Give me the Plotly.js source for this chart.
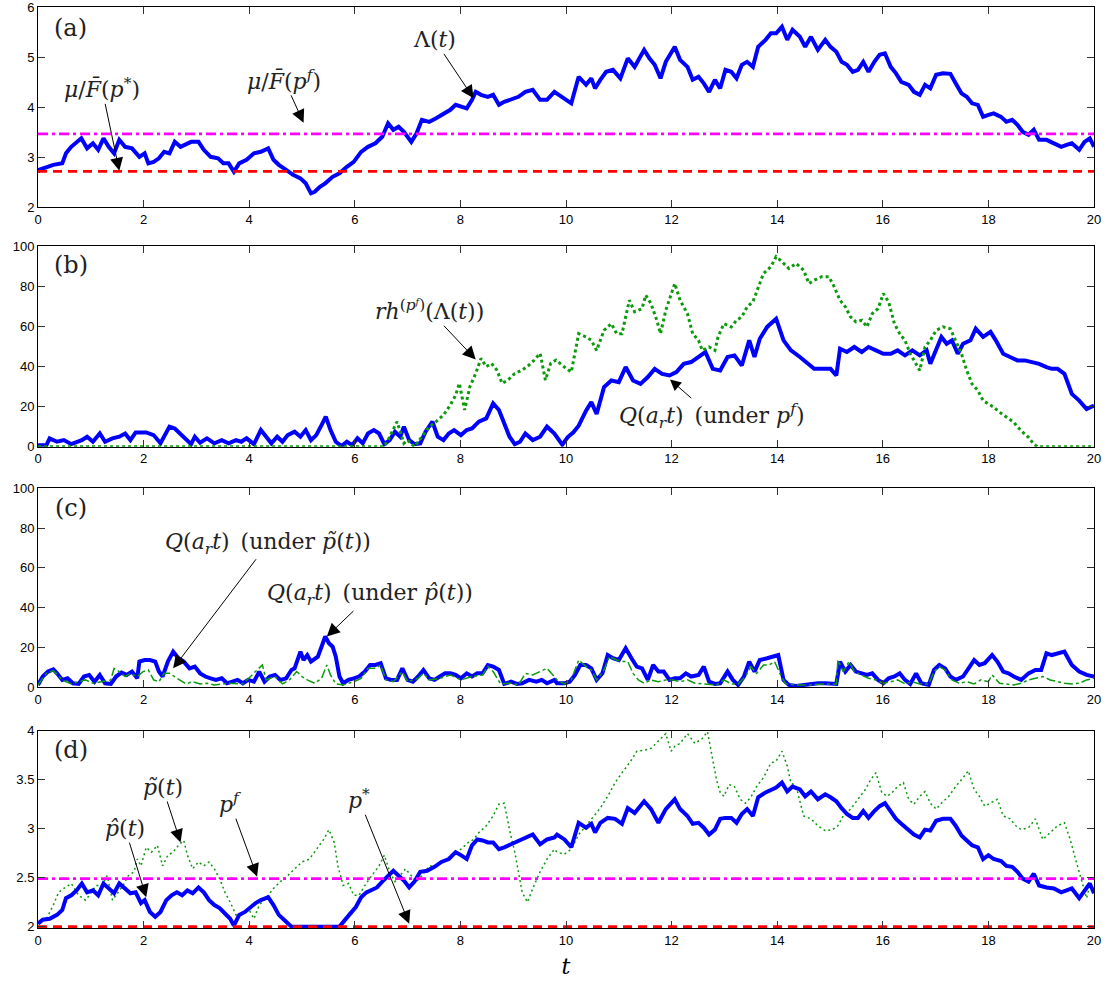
<!DOCTYPE html>
<html><head><meta charset="utf-8">
<script src="https://cdn.plot.ly/plotly-3.0.1.min.js"></script>
<style>body{margin:0;background:#fff}#chart{width:1118px;height:993px}</style>
</head><body><div id="chart"></div>
<script>
// ---------- Panel (a): Lambda(t) ----------
const tLam = [0,0.02,0.29,0.46,0.53,0.63,0.82,0.93,1.04,1.14,1.24,1.34,1.44,1.54,1.65,1.78,1.92,2.02,2.09,2.19,2.29,2.39,2.49,2.59,2.70,2.80,2.90,3.04,3.14,3.27,3.41,3.51,3.61,3.71,3.81,3.95,4.09,4.22,4.36,4.46,4.56,4.70,4.83,4.97,5.07,5.17,5.24,5.34,5.44,5.58,5.71,5.85,5.98,6.12,6.25,6.39,6.52,6.63,6.73,6.83,6.93,7.07,7.17,7.27,7.41,7.54,7.68,7.81,7.91,8.01,8.12,8.22,8.29,8.39,8.52,8.62,8.73,8.83,8.96,9.10,9.23,9.37,9.51,9.64,9.78,9.97,10.10,10.24,10.38,10.48,10.55,10.65,10.76,10.89,11.03,11.17,11.30,11.48,11.58,11.68,11.79,11.89,12.06,12.16,12.30,12.40,12.51,12.61,12.71,12.82,12.92,13.02,13.13,13.23,13.33,13.43,13.54,13.64,13.78,13.88,13.98,14.09,14.19,14.29,14.43,14.53,14.64,14.77,14.91,15.01,15.12,15.22,15.32,15.43,15.53,15.63,15.73,15.84,15.94,16.04,16.15,16.25,16.35,16.49,16.59,16.70,16.80,16.90,17.01,17.14,17.28,17.38,17.49,17.59,17.69,17.80,17.90,18.00,18.10,18.24,18.34,18.45,18.55,18.65,18.76,18.86,18.96,19.10,19.24,19.38,19.48,19.58,19.72,19.82,19.92,20.0];
const vLam = [2.7,2.75,2.85,2.88,3.08,3.21,3.38,3.18,3.28,3.15,3.38,3.21,3.08,3.35,3.21,3.18,3.01,3.08,2.88,2.91,2.98,3.11,3.08,3.31,3.21,3.25,3.31,3.31,3.15,3.01,2.98,2.88,2.88,2.71,2.88,2.95,3.08,3.11,3.18,2.95,2.85,2.75,2.65,2.58,2.48,2.28,2.31,2.41,2.48,2.61,2.68,2.81,2.91,3.11,3.21,3.28,3.41,3.68,3.55,3.61,3.51,3.31,3.48,3.75,3.71,3.78,3.88,3.95,4.05,4.01,3.98,4.15,4.31,4.25,4.21,4.25,4.05,4.11,4.15,4.21,4.31,4.35,4.15,4.15,4.31,4.18,4.08,4.61,4.45,4.58,4.38,4.55,4.71,4.75,4.58,4.98,4.81,5.15,4.98,4.85,4.58,4.91,5.21,4.95,4.81,4.55,4.61,4.48,4.31,4.55,4.38,4.75,4.71,4.58,4.85,4.91,4.81,5.21,5.35,5.48,5.48,5.61,5.35,5.55,5.41,5.21,5.41,5.15,5.35,5.21,5.11,4.91,4.85,4.71,4.75,4.91,4.71,4.91,5.05,5.08,4.81,4.68,4.51,4.45,4.31,4.25,4.45,4.38,4.65,4.68,4.67,4.48,4.28,4.21,4.08,4.05,3.81,3.85,3.88,3.81,3.71,3.75,3.65,3.51,3.45,3.55,3.35,3.35,3.28,3.21,3.25,3.28,3.15,3.31,3.38,3.21];
const levelsA = [2.72, 3.47];   // mu/Fbar(p*), mu/Fbar(p^f)

// ---------- Panel (b) ----------
const tQb = [0,0.16,0.22,0.36,0.49,0.63,0.83,0.93,1.04,1.17,1.27,1.41,1.54,1.65,1.75,1.85,2.05,2.19,2.32,2.49,2.59,2.73,2.90,2.97,3.07,3.20,3.34,3.48,3.61,3.75,3.85,3.95,4.09,4.22,4.32,4.42,4.53,4.63,4.73,4.86,4.97,5.07,5.17,5.27,5.37,5.45,5.54,5.64,5.75,5.85,5.95,6.05,6.15,6.25,6.36,6.46,6.56,6.66,6.76,6.86,6.93,7.03,7.13,7.24,7.34,7.47,7.57,7.68,7.78,7.88,8.01,8.12,8.22,8.35,8.49,8.62,8.73,8.83,8.93,9.03,9.13,9.23,9.37,9.51,9.64,9.78,9.93,10.03,10.14,10.24,10.38,10.48,10.58,10.72,10.86,11.00,11.13,11.27,11.41,11.55,11.68,11.82,11.96,12.09,12.23,12.37,12.51,12.64,12.78,12.92,13.06,13.19,13.33,13.47,13.57,13.67,13.81,13.98,14.12,14.26,14.43,14.57,14.70,14.84,15.01,15.12,15.19,15.32,15.46,15.60,15.73,15.87,16.01,16.15,16.28,16.42,16.56,16.70,16.83,16.90,17.01,17.11,17.21,17.31,17.42,17.52,17.66,17.76,17.90,18.04,18.14,18.28,18.41,18.55,18.69,18.83,18.96,19.10,19.20,19.31,19.44,19.58,19.72,19.86,20.0];
const vQb = [0.8,0.8,4.2,2.5,3.3,1.3,3.3,5.0,2.5,6.6,2.5,4.2,5.0,6.6,3.3,7.1,7.1,5.8,1.7,10.0,9.1,5.8,1.3,5.0,2.0,4.2,1.7,3.3,1.7,3.3,2.5,4.2,1.3,8.3,5.0,1.7,5.0,2.5,5.8,7.5,5.0,8.3,3.3,5.8,10.8,15.0,8.3,2.5,0.3,2.5,0.8,4.2,1.7,6.6,8.3,6.6,1.3,3.3,7.5,5.0,10.0,3.3,1.3,1.7,7.5,12.5,5.0,3.3,6.6,8.3,5.8,8.3,9.1,12.5,14.1,21.6,18.3,11.6,5.0,1.3,2.5,6.6,3.3,5.0,10.0,6.6,1.0,4.7,7.2,10.5,18.0,22.2,16.3,29.7,33.0,32.2,39.7,33.0,31.3,34.7,38.8,36.3,35.5,37.2,41.3,42.2,44.7,47.2,38.8,38.0,44.7,45.5,40.5,53.0,44.7,53.8,59.7,63.8,53.0,48.0,44.7,41.3,38.8,38.8,38.8,35.5,48.8,47.2,49.7,47.2,49.7,48.0,46.3,46.3,48.0,45.5,48.0,45.5,48.0,41.3,48.0,54.7,51.3,53.0,46.3,51.3,53.0,58.8,54.7,57.2,53.0,46.3,44.7,43.0,43.0,42.2,41.3,39.7,38.8,38.8,36.3,26.3,23.0,18.8,20.5];
const tRh = [0,6.55,6.63,6.80,6.93,7.00,7.13,7.27,7.41,7.54,7.68,7.81,7.91,7.98,8.08,8.18,8.29,8.39,8.49,8.59,8.69,8.79,8.90,9.03,9.17,9.30,9.40,9.51,9.61,9.71,9.81,9.97,10.10,10.24,10.38,10.48,10.58,10.72,10.86,10.96,11.06,11.20,11.30,11.44,11.51,11.61,11.72,11.79,11.89,12.06,12.16,12.30,12.40,12.51,12.58,12.71,12.82,12.88,12.99,13.13,13.23,13.33,13.43,13.54,13.64,13.74,13.88,13.98,14.09,14.22,14.36,14.50,14.60,14.70,14.84,14.98,15.08,15.19,15.29,15.39,15.49,15.60,15.70,15.80,15.91,16.01,16.11,16.22,16.32,16.42,16.52,16.63,16.70,16.80,16.90,17.01,17.14,17.28,17.38,17.49,17.59,17.69,17.80,17.90,18.00,18.10,18.21,18.34,18.48,18.62,18.76,18.86,18.93,20.0];
const vRh = [0,0,3.3,12.5,1.7,3.3,0,5.0,10.0,12.5,15.8,20.8,25.7,31.6,18.3,29.9,36.5,44.0,39.9,41.5,38.2,31.6,33.2,36.5,38.2,40.7,43.2,46.5,33.2,41.5,43.2,39.7,37.2,56.3,54.7,53.0,48.0,58.0,61.3,56.3,56.3,73.0,67.2,68.8,75.5,71.3,63.0,56.3,68.0,81.3,73.0,66.3,56.3,53.0,48.0,49.7,48.0,54.7,61.3,59.7,63.0,64.7,69.7,72.2,79.7,86.3,89.7,94.7,92.2,88.8,91.3,88.0,81.3,83.0,84.7,84.7,79.7,73.0,69.7,64.7,62.2,63.0,59.7,66.3,68.8,76.3,72.2,61.3,56.3,53.0,46.3,41.3,38.0,49.7,53.0,58.0,59.7,58.8,53.0,46.3,38.0,31.3,28.0,23.0,21.3,19.7,17.2,14.7,12.2,8.0,4.7,1.3,0,0];

// ---------- Panel (c) ----------
const tQhat = [0,0.09,0.19,0.29,0.36,0.46,0.56,0.66,0.77,0.87,0.97,1.07,1.17,1.27,1.38,1.48,1.58,1.68,1.78,1.88,1.92,2.02,2.12,2.22,2.29,2.36,2.46,2.56,2.66,2.76,2.87,2.97,3.07,3.17,3.27,3.37,3.48,3.58,3.68,3.78,3.88,3.98,4.09,4.19,4.29,4.39,4.49,4.59,4.70,4.80,4.86,4.97,5.03,5.10,5.17,5.24,5.30,5.37,5.44,5.51,5.58,5.64,5.71,5.78,5.88,5.98,6.08,6.19,6.29,6.39,6.49,6.59,6.69,6.80,6.90,7.00,7.10,7.20,7.30,7.41,7.51,7.61,7.71,7.81,7.91,8.01,8.12,8.22,8.32,8.42,8.52,8.62,8.73,8.83,8.96,9.07,9.17,9.30,9.44,9.54,9.64,9.78,9.83,9.97,10.07,10.17,10.27,10.38,10.48,10.58,10.69,10.79,10.89,11.00,11.13,11.24,11.34,11.44,11.55,11.65,11.75,11.85,11.96,12.06,12.16,12.27,12.37,12.51,12.61,12.71,12.82,12.92,13.06,13.16,13.26,13.37,13.47,13.57,13.67,13.81,13.91,14.02,14.12,14.22,14.36,14.50,14.64,14.77,14.91,15.05,15.12,15.19,15.29,15.39,15.49,15.60,15.70,15.80,15.91,16.01,16.11,16.22,16.32,16.42,16.52,16.63,16.73,16.87,16.97,17.07,17.18,17.28,17.38,17.52,17.62,17.73,17.83,17.93,18.07,18.17,18.28,18.38,18.48,18.62,18.76,18.89,19.00,19.10,19.20,19.31,19.44,19.58,19.72,19.86,20.0];
const vQhat = [1.2,5.4,7.9,9.0,7.0,3.7,4.5,2.0,1.7,5.4,6.2,2.8,6.2,2.0,1.7,5.4,7.4,6.2,7.9,4.5,12.9,13.7,13.7,12.9,7.9,5.4,12.9,17.9,14.6,12.9,9.5,10.4,7.0,5.4,4.5,3.7,4.5,2.0,2.8,3.7,2.0,3.7,2.8,7.9,2.8,5.4,6.2,3.7,4.5,8.7,9.5,17.9,13.7,16.2,12.9,14.6,15.4,20.4,25.5,22.1,20.4,15.4,5.4,2.0,3.7,4.5,5.4,7.9,11.2,11.2,12.1,4.5,3.7,3.7,9.5,3.7,2.8,5.4,8.7,4.5,3.7,5.4,7.0,7.0,6.2,4.5,7.0,5.4,7.0,7.0,11.2,10.4,8.7,1.7,2.8,1.7,2.0,3.7,2.8,3.7,2.0,3.7,2.0,2.0,2.8,6.2,11.2,11.2,9.5,3.7,7.0,16.2,14.6,13.7,19.6,14.6,10.4,9.5,3.7,11.2,7.9,7.9,3.7,4.5,4.5,7.0,5.4,6.2,10.4,2.8,1.7,2.0,7.9,3.7,1.2,5.4,12.9,7.9,13.7,14.6,15.4,16.2,3.7,1.2,0.7,1.2,1.7,2.0,2.0,2.0,1.7,12.9,7.9,11.2,7.9,7.0,6.2,7.0,3.7,2.0,4.5,5.4,7.0,3.7,1.7,7.0,2.0,1.2,8.7,11.2,9.5,5.4,3.7,5.4,9.5,13.7,11.2,12.1,16.2,12.9,7.9,7.0,5.4,3.7,7.0,8.7,8.7,17.1,16.2,17.1,17.9,11.2,7.9,6.2,5.4];
const tQtil = [0,0.16,0.29,0.46,0.63,0.90,1.04,1.24,1.38,1.44,1.54,1.65,1.75,1.88,1.99,2.09,2.19,2.29,2.39,2.49,2.59,2.70,2.80,2.93,3.07,3.20,3.34,3.61,3.88,4.15,4.25,4.32,4.49,4.63,4.76,4.90,5.00,5.10,5.24,5.37,5.47,5.54,5.64,5.78,5.98,6.12,6.25,6.39,6.49,6.59,6.73,6.90,7.00,7.20,7.30,7.41,7.61,7.81,8.01,8.22,8.42,8.52,8.62,8.76,8.96,9.10,9.23,9.37,9.51,9.64,9.78,9.83,9.97,10.10,10.24,10.38,10.48,10.58,10.72,10.82,10.96,11.06,11.17,11.27,11.37,11.48,11.61,11.75,11.89,12.03,12.16,12.30,12.44,12.58,12.71,12.85,12.99,13.13,13.26,13.40,13.50,13.61,13.74,13.85,13.95,14.05,14.16,14.36,14.64,14.91,15.12,15.15,15.25,15.36,15.46,15.60,15.73,15.87,16.01,16.15,16.28,16.42,16.56,16.70,16.87,16.97,17.07,17.18,17.31,17.45,17.59,17.73,17.86,18.00,18.07,18.21,18.34,18.48,18.62,18.76,18.89,19.03,19.17,19.31,19.44,19.58,19.72,19.86,20.0];
const vQtil = [1.2,7.0,8.4,3.7,1.7,3.7,2.0,2.8,3.7,9.5,7.9,5.4,7.0,5.4,7.9,8.7,3.7,2.8,7.0,7.0,5.4,3.7,1.7,2.8,1.7,2.0,1.2,2.0,1.7,8.7,11.2,3.7,5.4,1.7,3.7,7.9,5.4,3.7,2.0,4.5,11.2,6.2,1.7,1.2,2.8,4.5,9.5,9.5,11.2,3.7,2.8,7.9,2.8,4.5,7.0,3.7,4.5,6.2,3.7,5.4,6.2,10.4,7.9,1.7,2.0,1.2,7.0,6.2,7.9,9.5,5.4,3.7,1.7,3.7,13.7,10.4,8.7,3.7,8.7,15.4,13.7,12.9,12.9,7.0,3.7,2.0,3.7,2.8,3.7,3.7,2.8,3.7,2.0,1.7,1.7,1.2,3.7,1.7,1.7,5.4,10.4,7.0,11.2,11.2,12.9,7.0,1.7,1.2,1.2,1.7,1.7,13.7,7.9,12.9,7.9,6.2,4.5,3.7,2.0,2.8,3.7,1.7,2.8,1.7,1.7,7.9,10.4,8.7,3.7,2.0,2.8,1.7,3.7,2.8,6.2,2.0,1.7,1.2,2.0,3.7,4.5,5.4,3.7,2.8,2.0,1.7,2.0,3.7,4.5];

// ---------- Panel (d) ----------
const tPhat = [0,0.09,0.22,0.36,0.46,0.53,0.63,0.73,0.83,0.93,1.04,1.14,1.24,1.34,1.44,1.54,1.65,1.75,1.85,1.95,2.02,2.12,2.22,2.32,2.43,2.53,2.63,2.73,2.83,2.93,3.04,3.14,3.24,3.34,3.44,3.54,3.64,3.71,3.81,3.92,4.02,4.12,4.22,4.36,4.46,4.56,4.70,4.80,5.71,5.81,5.91,6.02,6.12,6.22,6.32,6.42,6.52,6.63,6.73,6.83,6.93,7.03,7.13,7.24,7.37,7.51,7.64,7.78,7.91,8.01,8.12,8.22,8.32,8.42,8.52,8.62,8.73,8.83,8.96,9.10,9.23,9.37,9.51,9.64,9.78,9.83,9.97,10.10,10.24,10.38,10.48,10.55,10.65,10.79,10.93,11.06,11.17,11.30,11.48,11.61,11.75,11.89,12.06,12.16,12.30,12.40,12.51,12.61,12.71,12.82,12.92,13.02,13.13,13.23,13.33,13.43,13.54,13.64,13.78,13.88,13.98,14.09,14.19,14.29,14.43,14.53,14.64,14.77,14.91,15.01,15.12,15.22,15.32,15.43,15.53,15.63,15.73,15.84,15.94,16.04,16.15,16.25,16.35,16.49,16.59,16.70,16.80,16.90,17.01,17.14,17.28,17.38,17.49,17.59,17.69,17.80,17.90,18.00,18.10,18.24,18.34,18.45,18.55,18.65,18.76,18.86,18.96,19.10,19.24,19.38,19.48,19.58,19.72,19.82,19.92,20.0];
const vPhat = [2.03,2.07,2.08,2.12,2.17,2.29,2.32,2.37,2.44,2.35,2.37,2.32,2.44,2.39,2.34,2.44,2.39,2.34,2.35,2.24,2.27,2.15,2.10,2.15,2.27,2.32,2.35,2.32,2.37,2.34,2.40,2.35,2.27,2.22,2.19,2.13,2.08,2.01,2.12,2.15,2.20,2.24,2.27,2.30,2.22,2.12,2.05,2.0,2.0,2.07,2.13,2.20,2.30,2.35,2.37,2.40,2.46,2.52,2.57,2.52,2.47,2.40,2.46,2.56,2.57,2.61,2.66,2.69,2.76,2.73,2.69,2.83,2.89,2.88,2.86,2.86,2.79,2.81,2.84,2.88,2.91,2.94,2.84,2.89,2.91,2.94,2.89,2.81,3.06,3.01,3.05,2.96,3.06,3.11,3.10,3.05,3.21,3.16,3.28,3.20,3.06,3.20,3.30,3.20,3.13,3.05,3.06,3.01,2.94,2.99,3.10,3.11,3.11,3.06,3.15,3.20,3.13,3.32,3.37,3.40,3.42,3.47,3.38,3.43,3.40,3.33,3.38,3.30,3.35,3.32,3.28,3.21,3.15,3.11,3.11,3.18,3.11,3.18,3.23,3.26,3.18,3.10,3.05,2.99,2.94,2.91,2.99,2.98,3.08,3.10,3.10,3.03,2.93,2.88,2.83,2.81,2.69,2.73,2.69,2.67,2.62,2.61,2.56,2.49,2.46,2.54,2.42,2.40,2.39,2.35,2.37,2.39,2.29,2.37,2.44,2.34];
const tPtil = [0,0.16,0.29,0.39,0.49,0.63,0.77,0.90,1.00,1.10,1.21,1.31,1.41,1.51,1.61,1.71,1.82,1.88,1.95,2.05,2.15,2.26,2.36,2.46,2.56,2.66,2.76,2.83,2.93,3.04,3.14,3.24,3.34,3.44,3.54,3.64,3.75,3.88,3.98,4.09,4.19,4.32,4.46,4.59,4.73,4.86,5.00,5.14,5.27,5.41,5.51,5.61,5.68,5.78,5.88,5.98,6.08,6.19,6.32,6.46,6.56,6.66,6.76,6.86,6.96,7.07,7.17,7.27,7.41,7.51,7.64,7.78,7.91,8.01,8.15,8.25,8.35,8.49,8.62,8.73,8.83,8.93,9.03,9.17,9.27,9.37,9.51,9.64,9.78,9.83,9.97,10.10,10.24,10.38,10.52,10.65,10.79,10.93,11.06,11.20,11.34,11.48,11.61,11.75,11.89,11.99,12.06,12.16,12.30,12.44,12.58,12.68,12.78,12.85,12.92,12.99,13.09,13.19,13.30,13.40,13.50,13.61,13.74,13.88,13.98,14.09,14.19,14.26,14.36,14.50,14.64,14.77,14.91,15.05,15.15,15.25,15.39,15.53,15.67,15.77,15.87,15.98,16.08,16.18,16.28,16.39,16.49,16.59,16.70,16.80,16.90,17.01,17.11,17.25,17.38,17.52,17.62,17.73,17.83,17.93,18.04,18.17,18.28,18.41,18.52,18.62,18.76,18.89,19.03,19.17,19.31,19.44,19.55,19.65,19.72,19.79,19.86,19.92,20.0];
const vPtil = [2.03,2.08,2.22,2.35,2.39,2.44,2.32,2.27,2.34,2.42,2.42,2.52,2.27,2.35,2.42,2.52,2.56,2.69,2.62,2.81,2.76,2.83,2.62,2.73,2.76,2.83,2.88,2.73,2.59,2.66,2.62,2.66,2.59,2.49,2.35,2.25,2.12,2.12,2.19,2.08,2.22,2.29,2.39,2.46,2.52,2.59,2.66,2.69,2.79,2.89,2.99,2.86,2.62,2.42,2.44,2.32,2.32,2.42,2.52,2.62,2.73,2.56,2.46,2.52,2.59,2.52,2.46,2.52,2.62,2.62,2.66,2.69,2.76,2.79,2.86,2.89,2.96,3.03,3.13,3.25,3.26,2.99,2.76,2.35,2.25,2.39,2.56,2.69,2.79,2.76,2.74,2.79,2.94,3.03,3.13,3.21,3.33,3.47,3.57,3.67,3.79,3.80,3.82,3.89,3.97,3.79,3.84,3.87,3.97,3.87,3.92,3.99,3.70,3.50,3.37,3.33,3.45,3.43,3.30,3.26,3.32,3.43,3.52,3.67,3.69,3.79,3.64,3.47,3.43,3.13,3.10,3.03,2.98,2.99,3.03,3.13,3.20,3.30,3.40,3.50,3.57,3.37,3.33,3.37,3.43,3.47,3.30,3.25,3.33,3.38,3.26,3.20,3.26,3.33,3.43,3.52,3.59,3.40,3.33,3.23,3.26,3.30,3.13,3.10,3.03,2.99,3.01,3.10,2.89,2.96,3.03,3.06,2.89,2.69,2.56,2.42,2.29,2.42,2.35];
const levelsD = [2.0, 2.49];   // p*, p^f

const hlineT = [0, 20];
const xTicks = [0,2,4,6,8,10,12,14,16,18,20];

// ---------- styles ----------
const BLUE = '#0000ff', GREEN = '#0a9a0a', MAG = '#ff00ff', RED = '#ff0000';
const blueLine = {color: BLUE, width: 4};
const redLine = {color: RED, width: 2.8, dash: '9px,6px'};
const magLine = {color: MAG, width: 2.8, dash: '10px,4px,3px,4px'};

function tr(x, y, ax, line) {
  return {x: x, y: y, xaxis: 'x' + ax, yaxis: 'y' + ax, type: 'scatter', mode: 'lines',
          line: line, hoverinfo: 'skip', showlegend: false};
}
const hl = v => [v, v];

const data = [
  tr(tLam, vLam, '', blueLine),
  tr(hlineT, hl(levelsA[0]), '', redLine),
  tr(hlineT, hl(levelsA[1]), '', magLine),

  tr(tQb, vQb, 2, blueLine),
  tr(tRh, vRh, 2, {color: GREEN, width: 3, dash: 'dot'}),

  tr(tQhat, vQhat, 3, blueLine),
  tr(tQtil, vQtil, 3, {color: GREEN, width: 1.5, dash: 'dashdot'}),

  tr(tPtil, vPtil, 4, {color: GREEN, width: 1.5, dash: '2px,3px'}),
  tr(tPhat, vPhat, 4, blueLine),
  tr(hlineT, hl(levelsD[0]), 4, redLine),
  tr(hlineT, hl(levelsD[1]), 4, magLine)
];

const tickFont = {family: 'Liberation Sans, Arial, sans-serif', size: 13, color: '#000'};
function xa(anchor) {
  return {anchor: anchor, range: [0, 20], tickvals: xTicks, ticks: 'inside', ticklen: 7,
          tickcolor: '#333', showline: true, linecolor: '#000', linewidth: 1, mirror: 'allticks',
          showgrid: false, zeroline: false, tickfont: tickFont, automargin: false,
          ticklabeloverflow: 'allow'};
}
function ya(anchor, dom, range, vals) {
  return {anchor: anchor, domain: dom, range: range, tickvals: vals, ticks: 'inside', ticklen: 7,
          tickcolor: '#333', showline: true, linecolor: '#000', linewidth: 1, mirror: 'allticks',
          showgrid: false, zeroline: false, tickfont: tickFont, automargin: false,
          ticklabeloverflow: 'allow'};
}

const mathFont = {family: 'DejaVu Serif, Liberation Serif, serif', size: 22, color: '#222'};
function arrowNote(ax, text, tipT, tipV, txtT, txtV, size) {
  return {xref: 'x' + ax, yref: 'y' + ax, axref: 'x' + ax, ayref: 'y' + ax,
          x: tipT, y: tipV, ax: txtT, ay: txtV, text: text, showarrow: true,
          arrowhead: 2, arrowsize: size || 2.6, arrowwidth: 1, arrowcolor: '#000', font: mathFont,
          standoff: 0};
}
function label(ax, text, t, v) {
  return {xref: 'x' + ax, yref: 'y' + ax, x: t, y: v, text: text, showarrow: false,
          font: Object.assign({}, mathFont, {size: 24})};
}

const SP = '\u2002';
const annotations = [
  label('', '(a)', 0.62, 5.58),
  label(2, '(b)', 0.62, 90.5),
  label(3, '(c)', 0.62, 90),
  label(4, '(d)', 0.62, 3.80),
  arrowNote('', 'Λ(<i>t</i>)', 8.25, 4.18, 7.51, 5.35),
  arrowNote('', '<i>μ</i>/<i>F̄</i>(<i>p<sup>f</sup></i>)', 5.03, 3.69, 4.66, 4.55),
  arrowNote('', '<i>μ</i>/<i>F̄</i>(<i>p</i><sup>*</sup>)', 1.54, 2.73, 1.21, 4.38),
  arrowNote(2, '<i>rh</i><sup>(<i>pᶠ</i>)</sup>(Λ(<i>t</i>))', 8.29, 43.5, 7.41, 68),
  arrowNote(2, '<i>Q</i>(<i>a<sub>r</sub>t</i>)' + SP + '(under <i>p<sup>f</sup></i>)', 11.97, 33.5, 12.75, 15.5, 2.2),
  arrowNote(3, '<i>Q</i>(<i>a<sub>r</sub>t</i>)' + SP + '(under <i>p̃</i>(<i>t</i>))', 2.56, 9.5, 4.36, 72.4),
  arrowNote(3, '<i>Q</i>(<i>a<sub>r</sub>t</i>)' + SP + '(under <i>p̂</i>(<i>t</i>))', 5.47, 25.5, 6.29, 46.4),
  arrowNote(4, '<i>p̂</i>(<i>t</i>)', 2.05, 2.30, 1.65, 3.0),
  arrowNote(4, '<i>p̃</i>(<i>t</i>)', 2.70, 2.86, 2.36, 3.42),
  arrowNote(4, '<i>p<sup>f</sup></i>', 4.15, 2.51, 3.64, 3.26),
  arrowNote(4, '<i>p</i><sup>*</sup>', 7.03, 2.03, 6.08, 3.30)
];

const layout = {
  width: 1118, height: 993,
  margin: {l: 38, r: 24, t: 0, b: 65},
  paper_bgcolor: '#fff', plot_bgcolor: '#fff',
  showlegend: false,
  xaxis: xa('y'), xaxis2: xa('y2'), xaxis3: xa('y3'),
  xaxis4: Object.assign(xa('y4'), {title: {text: '<i>t</i>', standoff: 12,
           font: {family: 'DejaVu Serif, serif', size: 22, color: '#000'}}}),
  yaxis: ya('x', [0.7766, 0.9921], [2, 6], [2, 3, 4, 5, 6]),
  yaxis2: ya('x2', [0.5186, 0.7349], [0, 100], [0, 20, 40, 60, 80, 100]),
  yaxis3: ya('x3', [0.2594, 0.4738], [0, 100], [0, 20, 40, 60, 80, 100]),
  yaxis4: ya('x4', [0, 0.2126], [1.986, 4], [2, 2.5, 3, 3.5, 4]),
  annotations: annotations
};

[[tLam, vLam], [tQb, vQb], [tRh, vRh], [tQhat, vQhat], [tQtil, vQtil], [tPhat, vPhat], [tPtil, vPtil]]
  .forEach((p, i) => { if (p[0].length !== p[1].length) throw new Error('length mismatch ' + i + ': ' + p[0].length + ' vs ' + p[1].length); });

Plotly.newPlot('chart', data, layout, {staticPlot: true, displayModeBar: false});
</script></body></html>
